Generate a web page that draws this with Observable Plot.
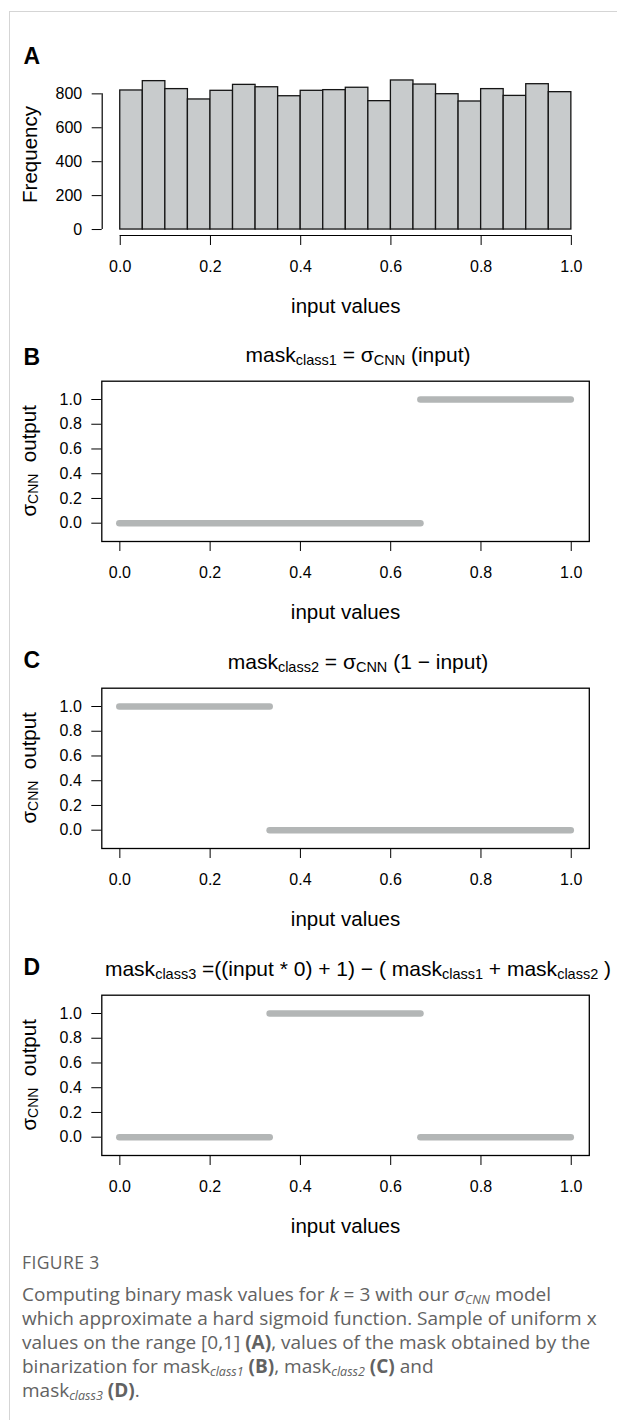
<!DOCTYPE html>
<html><head><meta charset="utf-8">
<script src="https://cdn.jsdelivr.net/npm/d3@7"></script>
<script src="https://cdn.jsdelivr.net/npm/@observablehq/plot@0.6"></script>
<style>
html,body{margin:0;padding:0;background:#fff;}
body{width:617px;height:1420px;overflow:hidden;position:relative;}
#border{position:absolute;left:9px;top:11px;width:620px;height:1420px;border-top:1.5px solid #d5d5d5;border-left:1.5px solid #d5d5d5;}
#charts{position:absolute;left:0;top:0;width:617px;}
#charts svg{display:block;}
#caption{position:absolute;left:22px;top:1248px;width:595px;font-family:"Open Sans",sans-serif;color:#626262;font-size:19px;line-height:24px;white-space:nowrap;}
#caption .fig{font-size:17.5px;line-height:28px;letter-spacing:0.4px;margin-bottom:6px;}
#caption sub{font-size:0.66em;vertical-align:-0.22em;line-height:0;}
</style></head>
<body>
<div id="border"></div>
<div id="charts"></div>
<div id="caption">
<div class="fig">FIGURE 3</div>
<div>Computing binary mask values for <i>k</i> = 3 with our <i>σ<sub>CNN</sub></i> model<br>which approximate a hard sigmoid function. Sample of uniform x<br>values on the range [0,1] <b>(A)</b>, values of the mask obtained by the<br>binarization for mask<sub><i>class1</i></sub> <b>(B)</b>, mask<sub><i>class2</i></sub> <b>(C)</b> and<br>mask<sub><i>class3</i></sub> <b>(D)</b>.</div>
</div>
<script>
// ---------- data ----------
const binEdges = [0, 0.05, 0.1, 0.15, 0.2, 0.25, 0.3, 0.35, 0.4, 0.45, 0.5, 0.55, 0.6, 0.65, 0.7, 0.75, 0.8, 0.85, 0.9, 0.95, 1.0];
const binCounts = [820, 875, 828, 767, 818, 853, 839, 786, 818, 822, 836, 757, 879, 855, 798, 755, 828, 788, 857, 810];
const freqTicks = [0, 200, 400, 600, 800];
const inputTicks = [0, 0.2, 0.4, 0.6, 0.8, 1.0];
const outputTicks = [0, 0.2, 0.4, 0.6, 0.8, 1.0];
// mask output runs (constant output over an input interval)
const class1From = [0, 0.667], class1To = [0.667, 1], class1Value = [0, 1];
const class2From = [0, 0.333], class2To = [0.333, 1], class2Value = [1, 0];
const class3From = [0, 0.333, 0.667], class3To = [0.333, 0.667, 1], class3Value = [0, 1, 0];
const panelLetters = ["A", "B", "C", "D"];
const xLabel = "input values";

// ---------- helpers ----------
const FONT = "'Liberation Sans', Arial, Helvetica, sans-serif";
const W = 617;
const TICK_FS = 16;
const baseStyle = {background: "none", fontFamily: FONT, fontSize: "16px", color: "#000", overflow: "visible"};
const SUB = 2.5;

function richText(svg, parts, {x, y, size, subSize, rotate = 0, anchor = "middle", weight = "normal"}) {
  const t = d3.select(svg).append("text")
    .attr("transform", `translate(${x},${y}) rotate(${rotate})`)
    .attr("text-anchor", anchor)
    .attr("font-size", size)
    .attr("font-weight", weight)
    .attr("fill", "#000")
    .style("white-space", "pre");
  let shifted = 0;
  for (const [s, sub] of parts) {
    const target = sub ? SUB : 0;
    t.append("tspan").attr("dy", target - shifted).attr("font-size", sub ? subSize : size).text(s);
    shifted = target;
  }
}

const charts = document.getElementById("charts");

// ---------- panel A: histogram ----------
const bins = binCounts.map((c, i) => ({x1: binEdges[i], x2: binEdges[i + 1], count: c}));
const histMax = d3.max(binCounts);
const xPad = 0.04 * (inputTicks.at(-1) - inputTicks[0]);
const xDomain = [inputTicks[0] - xPad, inputTicks.at(-1) + xPad];
const yDomainA = [-0.04 * histMax, 1.04 * histMax];

const plotA = Plot.plot({
  width: W, height: 320,
  marginLeft: 101.7, marginRight: 28.1, marginTop: 74, marginBottom: 85,
  x: {domain: xDomain},
  y: {domain: yDomainA},
  style: baseStyle,
  marks: [
    Plot.rect(bins, {x1: "x1", x2: "x2", y1: 0, y2: "count", fill: "#c8cbcc", stroke: "#151515", strokeWidth: 1.3}),
    Plot.ruleX([xDomain[0]], {y1: freqTicks[0], y2: freqTicks.at(-1), stroke: "#000", strokeWidth: 1.2}),
    Plot.ruleY([yDomainA[0]], {x1: inputTicks[0], x2: inputTicks.at(-1), stroke: "#000", strokeWidth: 1.2}),
    Plot.axisY({ticks: freqTicks, tickSize: 10, tickPadding: 10, label: null, fontSize: TICK_FS, tickFormat: d => String(d)}),
    Plot.axisX({ticks: inputTicks, tickSize: 10, tickPadding: 15, label: null, fontSize: TICK_FS, tickFormat: d3.format(".1f")}),
    Plot.text([xLabel], {text: d => d, frameAnchor: "bottom", lineAnchor: "bottom", dy: 77, fontSize: 20.5}),
    Plot.text([panelLetters[0]], {text: d => d, frameAnchor: "top-left", lineAnchor: "bottom", textAnchor: "start", dx: 23 - 101.7, dy: 63.3 - 74, fontSize: 23, fontWeight: "bold"})
  ]
});
richText(plotA, [["Frequency"]], {x: 36.5, y: (74 + 235) / 2, size: 20.5, subSize: 14, rotate: -90});
charts.appendChild(plotA);

// ---------- panels B-D: mask outputs ----------
const yPad = 0.04 * 1.2;
const yDomainMask = [-0.1 - yPad, 1.1 + yPad];

function maskPanel(from, to, value, letter, letterBaseline, titleParts) {
  const runs = from.map((f, i) => ({x1: f, x2: to[i], y: value[i]}));
  const svg = Plot.plot({
    width: W, height: 307,
    marginLeft: 101.3, marginRight: 28.2, marginTop: 60.7, marginBottom: 86,
    x: {domain: xDomain},
    y: {domain: yDomainMask},
    style: baseStyle,
    marks: [
      Plot.ruleY(runs, {x1: "x1", x2: "x2", y: "y", stroke: "#b3b6b6", strokeWidth: 6.6, strokeLinecap: "round"}),
      Plot.frame({stroke: "#000", strokeWidth: 1.3}),
      Plot.axisY({ticks: outputTicks, tickSize: 10, tickPadding: 10, label: null, fontSize: TICK_FS, tickFormat: d3.format(".1f")}),
      Plot.axisX({ticks: inputTicks, tickSize: 10, tickPadding: 15, label: null, fontSize: TICK_FS, tickFormat: d3.format(".1f")}),
      Plot.text([xLabel], {text: d => d, frameAnchor: "bottom", lineAnchor: "bottom", dy: 77, fontSize: 20.5}),
      Plot.text([letter], {text: d => d, frameAnchor: "top-left", lineAnchor: "bottom", textAnchor: "start", dx: 23 - 101.3, dy: letterBaseline - 60.7, fontSize: 23, fontWeight: "bold"})
    ]
  });
  // title with subscripts
  richText(svg, titleParts, {x: 358, y: 42, size: 21, subSize: 14.5});
  // rotated y label: sigma_CNN output
  richText(svg, [["σ"], ["CNN", true], ["  output"]], {x: 35.8, y: (60.7 + 221) / 2, size: 20.5, subSize: 14, rotate: -90});
  charts.appendChild(svg);
}

maskPanel(class1From, class1To, class1Value, panelLetters[1], 44,
  [["mask"], ["class1", true], [" = σ"], ["CNN", true], [" (input)"]]);
maskPanel(class2From, class2To, class2Value, panelLetters[2], 40,
  [["mask"], ["class2", true], [" = σ"], ["CNN", true], [" (1 − input)"]]);
maskPanel(class3From, class3To, class3Value, panelLetters[3], 40.5,
  [["mask"], ["class3", true], [" =((input * 0) + 1) − ( mask"], ["class1", true], [" + mask"], ["class2", true], [" )"]]);
</script>
</body></html>
